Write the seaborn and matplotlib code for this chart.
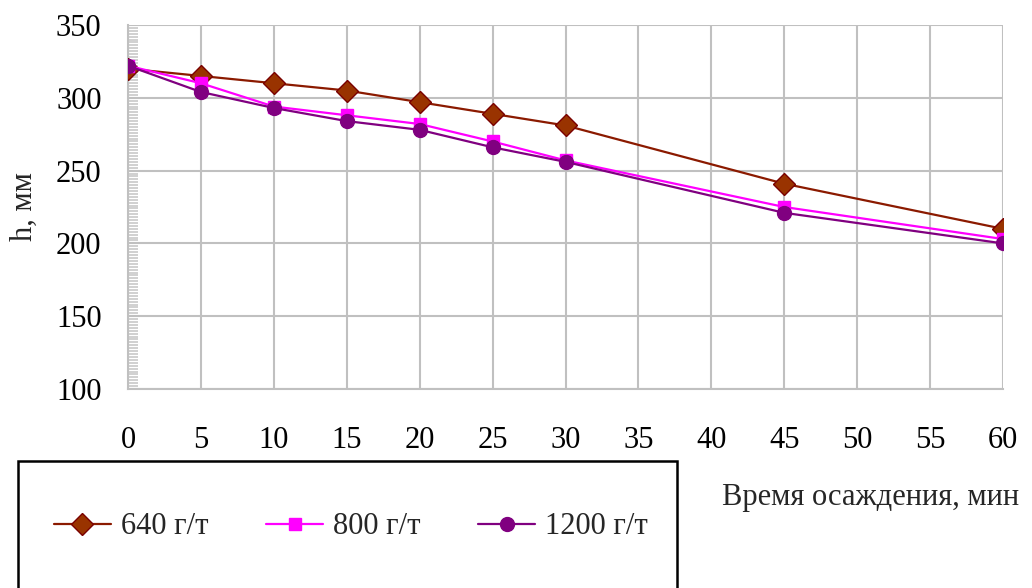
import matplotlib
matplotlib.use("Agg")
import matplotlib.pyplot as plt
import seaborn as sns
import pandas as pd
import numpy as np
from matplotlib.patches import Rectangle
from matplotlib.ticker import MultipleLocator

# Data
time_min = [0, 5, 10, 15, 20, 25, 30, 45, 60]
h_640 = [320, 315, 310, 305, 297, 289, 281, 241, 210]
h_800 = [322, 310, 294, 288, 282, 270, 257, 225, 203]
h_1200 = [322, 304, 293, 284, 278, 266, 256, 221, 200]
series_labels = ["640 г/т", "800 г/т", "1200 г/т"]
x_ticks = list(range(0, 61, 5))
y_ticks = list(range(100, 351, 50))

df = pd.concat([
    pd.DataFrame({"t": time_min, "h": h_640, "s": series_labels[0]}),
    pd.DataFrame({"t": time_min, "h": h_800, "s": series_labels[1]}),
    pd.DataFrame({"t": time_min, "h": h_1200, "s": series_labels[2]}),
])

sns.set_theme(style="white")
plt.rcParams['font.family'] = ['Liberation Serif', 'DejaVu Serif']
FS = 22

fig = plt.figure(figsize=(10.32, 5.88), dpi=100)
ax = fig.add_axes([128/1032, 1-389/588, (1003-128)/1032, (389-25)/588])

styles = {
    series_labels[0]: dict(color="#8B1A00", marker="D", mfc="#993300", mec="#7A0000", ms=11),
    series_labels[1]: dict(color="#FF00FF", marker="s", mfc="#FF00FF", mec="#FF00FF", ms=9),
    series_labels[2]: dict(color="#800080", marker="o", mfc="#800080", mec="#800080", ms=10),
}
handles = []
for lab in series_labels:
    st = styles[lab]
    sub = df[df["s"] == lab]
    sns.lineplot(data=sub, x="t", y="h", ax=ax, color=st["color"], lw=1.6,
                 marker=st["marker"], markerfacecolor=st["mfc"], markeredgecolor=st["mec"],
                 markersize=st["ms"], markeredgewidth=1, label=lab, legend=False, zorder=3)
    handles.append(ax.lines[-1])

ax.set_xlim(0, 60)
ax.set_ylim(100, 350)
ax.set_xticks(x_ticks)
ax.set_yticks(y_ticks)
ax.yaxis.set_minor_locator(MultipleLocator(2))
ax.grid(True, which="major", color="#C0C0C0", lw=1.5)
ax.set_axisbelow(True)
for s in ["top", "right"]:
    ax.spines[s].set_visible(False)
for s in ["left", "bottom"]:
    ax.spines[s].set_color("#C0C0C0")
    ax.spines[s].set_linewidth(1.5)
ax.tick_params(axis="both", which="major", length=10, width=1.5, color="#C0C0C0",
               direction="out", labelsize=FS, labelcolor="black")
ax.tick_params(axis="y", which="minor", length=7, width=1.2, color="#C8C8C8",
               direction="in", left=True)
ax.tick_params(axis="x", which="major", pad=17)
ax.tick_params(axis="y", which="major", pad=9)
ax.set_xlabel("")
ax.set_ylabel("h, мм", fontsize=FS, labelpad=12)

# Legend box
fig.patches.append(Rectangle((18/1032, -0.05), (677-18)/1032, 1-461/588+0.05,
                             transform=fig.transFigure, fill=False, edgecolor="black",
                             lw=1.8, clip_on=False))
leg = fig.legend(handles, series_labels, loc="center", bbox_to_anchor=(351/1032, 1-527/588),
                 ncol=3, frameon=False, fontsize=FS, handlelength=1.85, handletextpad=0.33,
                 columnspacing=1.9)

fig.text(722/1032, 1-497/588, "Время осаждения, мин", fontsize=FS, ha="left", va="center")

fig.savefig("out.png", dpi=100)
